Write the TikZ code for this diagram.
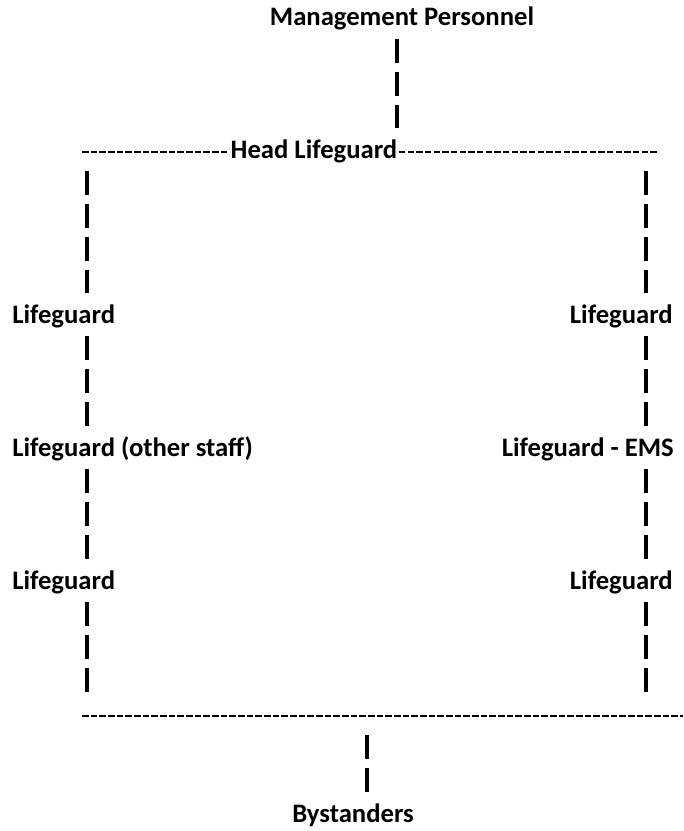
\documentclass[tikz,border=0pt]{standalone}
\usepackage{fontspec}
\setmainfont{Carlito}
\usetikzlibrary{calc}

\begin{document}
\begin{tikzpicture}[x=0.75pt, y=-0.75pt,
    every node/.style={font=\fontsize{20}{24}\selectfont\bfseries, inner sep=0pt, anchor=base},
    vbar/.style={line width=2.3pt, dash pattern=on 18pt off 6.75pt},
    hbar/.style={line width=2.2pt, dash pattern=on 4.9pt off 1.6pt}]
            \useasboundingbox (0,0) rectangle (683,831);

            \node (mgmt) at (402,26) {Management Personnel};
            \node (head) at (314,158) {Head Lifeguard};
            \node[anchor=base west] (lg1) at (12,323) {Lifeguard};
            \node[anchor=base west] (other) at (12,456) {Lifeguard (other staff)};
            \node[anchor=base west] (lg2) at (12,589) {Lifeguard};
            \node[anchor=base east] (rg1) at (673,323) {Lifeguard};
            \node[anchor=base east] (ems) at (674,456) {Lifeguard - EMS};
            \node[anchor=base east] (rg2) at (673,589) {Lifeguard};
            \node (bys) at (353,822) {Bystanders};

            \coordinate (M) at (397,0);
            \coordinate (L) at (87,0);
            \coordinate (R) at (646,0);
            \coordinate (B) at (367,0);
            \coordinate (topL) at (82,152);
            \coordinate (topR) at (657,152);
            \coordinate (botL) at (82,716);
            \coordinate (botR) at (683,716);

            % dashed rows
            \draw[hbar] (topL) -- ([xshift=-1pt]topL -| head.west);
            \draw[hbar] ([xshift=1pt]topL -| head.east) -- (topR);
            \draw[hbar] (botL) -- (botR);

            % bars
            \draw[vbar] ($(mgmt.base -| M)+(0,13)$) -- ($(head.base -| M)+(0,-30)$);
            \foreach \a/\b in {head/lg1, lg1/other, other/lg2} {
                \draw[vbar] ($(\a.base -| L)+(0,13)$) -- ($(\b.base -| L)+(0,-30)$);
            }
            \foreach \a/\b in {head/rg1, rg1/ems, ems/rg2} {
                \draw[vbar] ($(\a.base -| R)+(0,13)$) -- ($(\b.base -| R)+(0,-30)$);
            }
            \draw[vbar] ($(lg2.base -| L)+(0,13)$) -- ($(botL -| L)+(0,-24)$);
            \draw[vbar] ($(rg2.base -| R)+(0,13)$) -- ($(botL -| R)+(0,-24)$);
            \draw[vbar] ($(botL -| B)+(0,19)$) -- ($(bys.base -| B)+(0,-30)$);
        \end{tikzpicture}
\end{document}
